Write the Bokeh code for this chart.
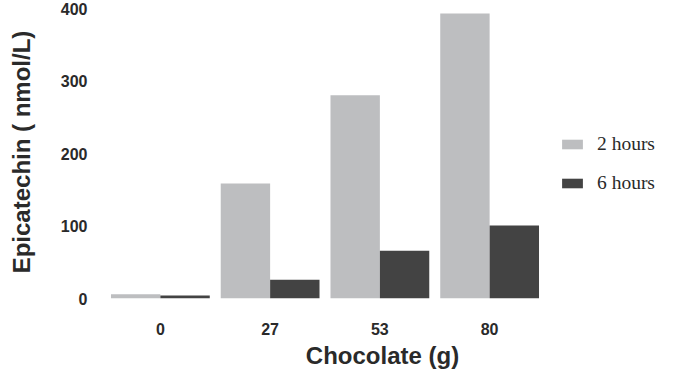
from bokeh.plotting import figure
from bokeh.models import ColumnDataSource, Range1d, Legend, LegendItem, SingleIntervalTicker, FixedTicker
from bokeh.embed import file_html
from bokeh.resources import INLINE

chocolate = ["0", "27", "53", "80"]
hours_2 = [6, 159, 281, 394]
hours_6 = [4, 26, 66, 101]
series_labels = ["2 hours", "6 hours"]

centers = [i + 0.5 for i in range(len(chocolate))]
src = ColumnDataSource(dict(
    x2=[c - 0.225 for c in centers], x6=[c + 0.225 for c in centers],
    h2=hours_2, h6=hours_6))

W, H = 659, 371
LEFT, TOP, BOTTOM = 105, 5, 72
p = figure(width=W, height=H,
           x_range=Range1d(0, (W - LEFT) / 109.75), y_range=Range1d(0, 405),
           min_border_left=LEFT, min_border_right=0, min_border_top=TOP, min_border_bottom=BOTTOM,
           output_backend="svg", toolbar_location=None)
p.outline_line_color = None
p.background_fill_color = "white"
p.border_fill_color = "white"
p.xgrid.grid_line_color = None
p.ygrid.grid_line_color = None

r1 = p.vbar(x="x2", top="h2", width=0.45, source=src, fill_color="#bdbec0", line_color=None)
r2 = p.vbar(x="x6", top="h6", width=0.45, source=src, fill_color="#434343", line_color=None)

font = "Liberation Sans"
for ax in (p.xaxis[0], p.yaxis[0]):
    ax.axis_line_color = None
    ax.major_tick_line_color = None
    ax.minor_tick_line_color = None
    ax.major_label_text_font = font
    ax.major_label_text_font_style = "bold"
    ax.major_label_text_font_size = "16px"
    ax.major_label_text_color = "#2a2a2a"
    ax.axis_label_text_font = font
    ax.axis_label_text_font_style = "bold"
    ax.axis_label_text_font_size = "24px"
    ax.axis_label_text_color = "#2a2a2a"

p.yaxis[0].ticker = SingleIntervalTicker(interval=100)
p.yaxis[0].axis_label = "Epicatechin ( nmol/L)"
p.yaxis[0].major_label_standoff = 12
p.yaxis[0].axis_label_standoff = 23
p.xaxis[0].ticker = FixedTicker(ticks=centers)
p.xaxis[0].major_label_overrides = {c: lab for c, lab in zip(centers, chocolate)}
p.xaxis[0].axis_label = "Chocolate (g)"
p.xaxis[0].major_label_standoff = 18
p.xaxis[0].axis_label_standoff = 4

legend = Legend(items=[LegendItem(label=series_labels[0], renderers=[r1]),
                       LegendItem(label=series_labels[1], renderers=[r2])],
                location=(454, 104), orientation="vertical",
                glyph_width=26, glyph_height=12, label_height=20,
                label_standoff=12, spacing=17, padding=0, margin=0,
                label_text_font="Liberation Serif", label_text_font_size="19.5px",
                label_text_color="#2a2a2a",
                border_line_color=None, background_fill_alpha=0)
p.add_layout(legend, "center")

open("out.html", "w").write(file_html(p, INLINE))
